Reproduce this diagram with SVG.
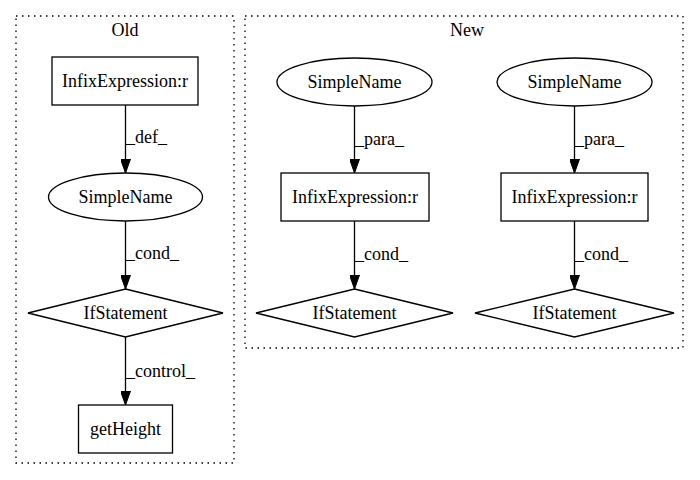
<svg xmlns="http://www.w3.org/2000/svg" width="700" height="480" viewBox="0 0 700 480">
<defs>
<style>
text{font-family:"Liberation Serif","Times New Roman",serif;font-size:18px;fill:#000}
.n{text-anchor:middle}
.shape{fill:#fff;stroke:#000;stroke-width:1.3}
.cl{fill:none;stroke:#000;stroke-width:1.3;stroke-dasharray:1.5,4.5}
.e{stroke:#000;stroke-width:1.3;fill:none;marker-end:url(#ah)}
</style>
<marker id="ah" viewBox="0 0 14 10" refX="14" refY="5" markerWidth="14" markerHeight="10" markerUnits="userSpaceOnUse" orient="auto">
<path d="M0,0 L14,5 L0,10 Z" fill="#000" stroke="#000" stroke-width="1"/>
</marker>
</defs>
<rect width="700" height="480" fill="#fff"/>
<g id="cluster_old">
<rect class="cl" x="16" y="16" width="218" height="447"/>
<text class="n" x="125" y="36">Old</text>
</g>
<g id="cluster_new">
<rect class="cl" x="245" y="16" width="438" height="332"/>
<text class="n" x="467" y="36">New</text>
</g>
<g id="edges">
<line class="e" x1="125.5" y1="105" x2="125.5" y2="173"/>
<text x="126" y="143">_def_</text>
<line class="e" x1="125.5" y1="221" x2="125.5" y2="289"/>
<text x="126" y="259">_cond_</text>
<line class="e" x1="125.5" y1="337" x2="125.5" y2="405"/>
<text x="126" y="377">_control_</text>
<line class="e" x1="354.5" y1="106" x2="354.5" y2="173"/>
<text x="355" y="145">_para_</text>
<line class="e" x1="354.5" y1="221" x2="354.5" y2="289"/>
<text x="355" y="260">_cond_</text>
<line class="e" x1="574.5" y1="106" x2="574.5" y2="173"/>
<text x="575" y="145">_para_</text>
<line class="e" x1="574.5" y1="221" x2="574.5" y2="289"/>
<text x="575" y="260">_cond_</text>
</g>
<g id="old_infix">
<rect class="shape" x="52" y="57" width="146" height="48"/>
<text class="n" x="125" y="87">InfixExpression:r</text>
</g>
<g id="old_simplename">
<ellipse class="shape" cx="125.5" cy="197" rx="77" ry="24"/>
<text class="n" x="125.5" y="203">SimpleName</text>
</g>
<g id="old_if">
<polygon class="shape" points="125.5,289 223,313 125.5,337 28,313"/>
<text class="n" x="125.5" y="319">IfStatement</text>
</g>
<g id="old_getheight">
<rect class="shape" x="78.5" y="405" width="94" height="48"/>
<text class="n" x="125.5" y="435">getHeight</text>
</g>
<g id="new_simplename1">
<ellipse class="shape" cx="354.5" cy="82" rx="77.5" ry="24"/>
<text class="n" x="354.5" y="88">SimpleName</text>
</g>
<g id="new_infix1">
<rect class="shape" x="281" y="173" width="148" height="48"/>
<text class="n" x="355" y="203">InfixExpression:r</text>
</g>
<g id="new_if1">
<polygon class="shape" points="354.5,289 453,313 354.5,337 256,313"/>
<text class="n" x="354.5" y="319">IfStatement</text>
</g>
<g id="new_simplename2">
<ellipse class="shape" cx="574.5" cy="82" rx="77.5" ry="24"/>
<text class="n" x="574.5" y="88">SimpleName</text>
</g>
<g id="new_infix2">
<rect class="shape" x="501" y="173" width="147" height="48"/>
<text class="n" x="574.5" y="203">InfixExpression:r</text>
</g>
<g id="new_if2">
<polygon class="shape" points="574.5,289 674,313 574.5,337 475,313"/>
<text class="n" x="574.5" y="319">IfStatement</text>
</g>
</svg>
